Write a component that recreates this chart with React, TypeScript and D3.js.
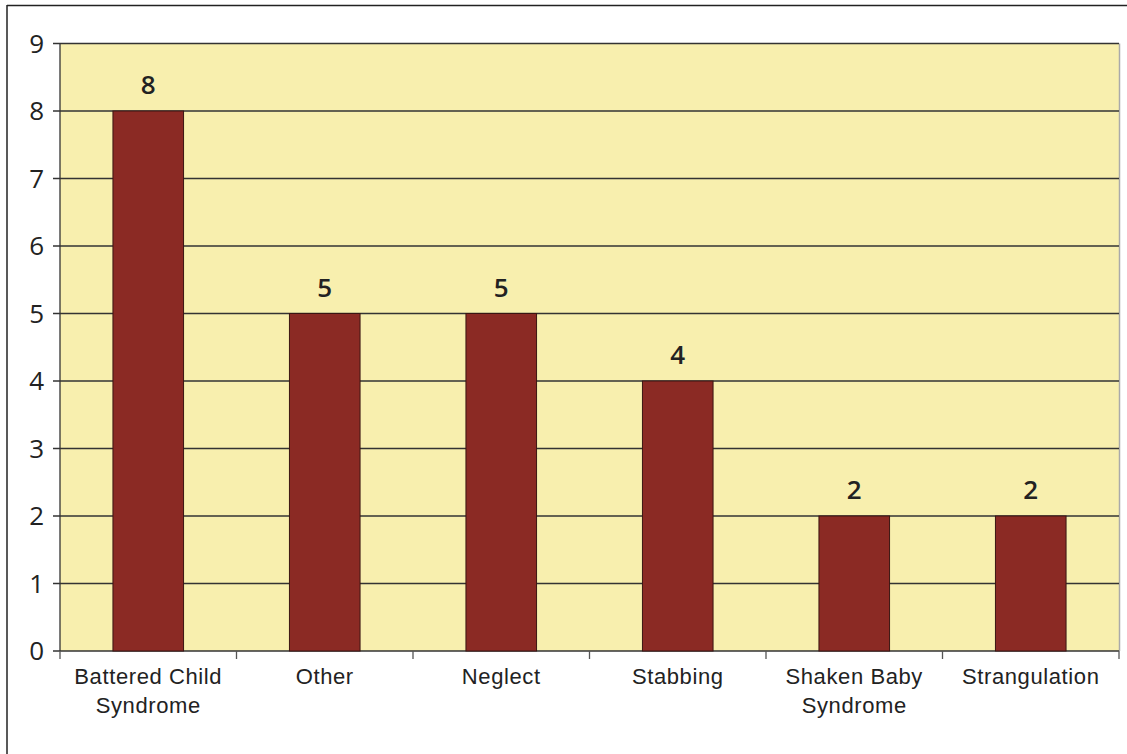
import React from "react";
import * as d3 from "d3";

const categories: string[][] = [
  ["Battered Child", "Syndrome"],
  ["Other"],
  ["Neglect"],
  ["Stabbing"],
  ["Shaken Baby", "Syndrome"],
  ["Strangulation"],
];
const values: number[] = [8, 5, 5, 4, 2, 2];
const yTicks: number[] = [0, 1, 2, 3, 4, 5, 6, 7, 8, 9];

export default function App() {
  const W = 1127, H = 754;
  const left = 60, right = 1119, top = 43.5, bottom = 651;
  const keys = categories.map((c) => c.join(" "));
  const x = d3.scaleBand<string>().domain(keys).range([left, right]).paddingInner(0.6).paddingOuter(0.3);
  const xb = d3.scaleBand<string>().domain(keys).range([left, right]);
  const y = d3.scaleLinear().domain([0, 9]).range([bottom, top]);
  const bounds = [left, ...keys.map((k) => (xb(k) as number) + xb.bandwidth())];

  return (
    <svg width={W} height={H} style={{ position: "absolute", left: 0, top: 0, background: "#fff" }}>
      <line x1={7} y1={5.5} x2={W} y2={5.5} stroke="#222" strokeWidth={1.5} />
      <line x1={7} y1={5} x2={7} y2={H} stroke="#222" strokeWidth={1.5} />
      <rect x={left} y={top} width={right - left} height={bottom - top} fill="#F8EFAE" />
      <line x1={right + 0.5} y1={top} x2={right + 0.5} y2={bottom} stroke="#aaa" strokeWidth={1.5} />
      {yTicks.map((t) => (
        <g key={t}>
          <line x1={53} x2={right} y1={y(t)} y2={y(t)} stroke="#333" strokeWidth={1.3} />
          <text x={44} y={y(t)} dy="0.36em" textAnchor="end" fontFamily="'Open Sans', sans-serif" fontWeight={400} fontSize={26} fill="#222">
            {t}
          </text>
        </g>
      ))}
      <line x1={left} x2={left} y1={top} y2={bottom} stroke="#333" strokeWidth={1.3} />
      {bounds.map((b, i) => (
        <line key={i} x1={b} x2={b} y1={bottom} y2={bottom + 8} stroke="#555" strokeWidth={1.3} />
      ))}
      {keys.map((k, i) => (
        <g key={k}>
          <rect
            x={x(k)}
            y={y(values[i])}
            width={x.bandwidth()}
            height={bottom - y(values[i])}
            fill="#8B2A24"
            stroke="#3a1512"
            strokeWidth={1}
          />
          <text
            x={(x(k) as number) + x.bandwidth() / 2}
            y={y(values[i]) - 17}
            textAnchor="middle"
            fontFamily="'Open Sans', sans-serif"
            fontWeight={600}
            fontSize={26}
            fill="#222"
          >
            {values[i]}
          </text>
          <text
            x={(x(k) as number) + x.bandwidth() / 2}
            y={684}
            textAnchor="middle"
            fontFamily="'Liberation Sans', Arial, sans-serif"
            fontSize={22}
            letterSpacing={0.6}
            fill="#222"
          >
            {categories[i].map((line, j) => (
              <tspan key={j} x={(x(k) as number) + x.bandwidth() / 2} dy={j === 0 ? 0 : 29}>
                {line}
              </tspan>
            ))}
          </text>
        </g>
      ))}
    </svg>
  );
}
